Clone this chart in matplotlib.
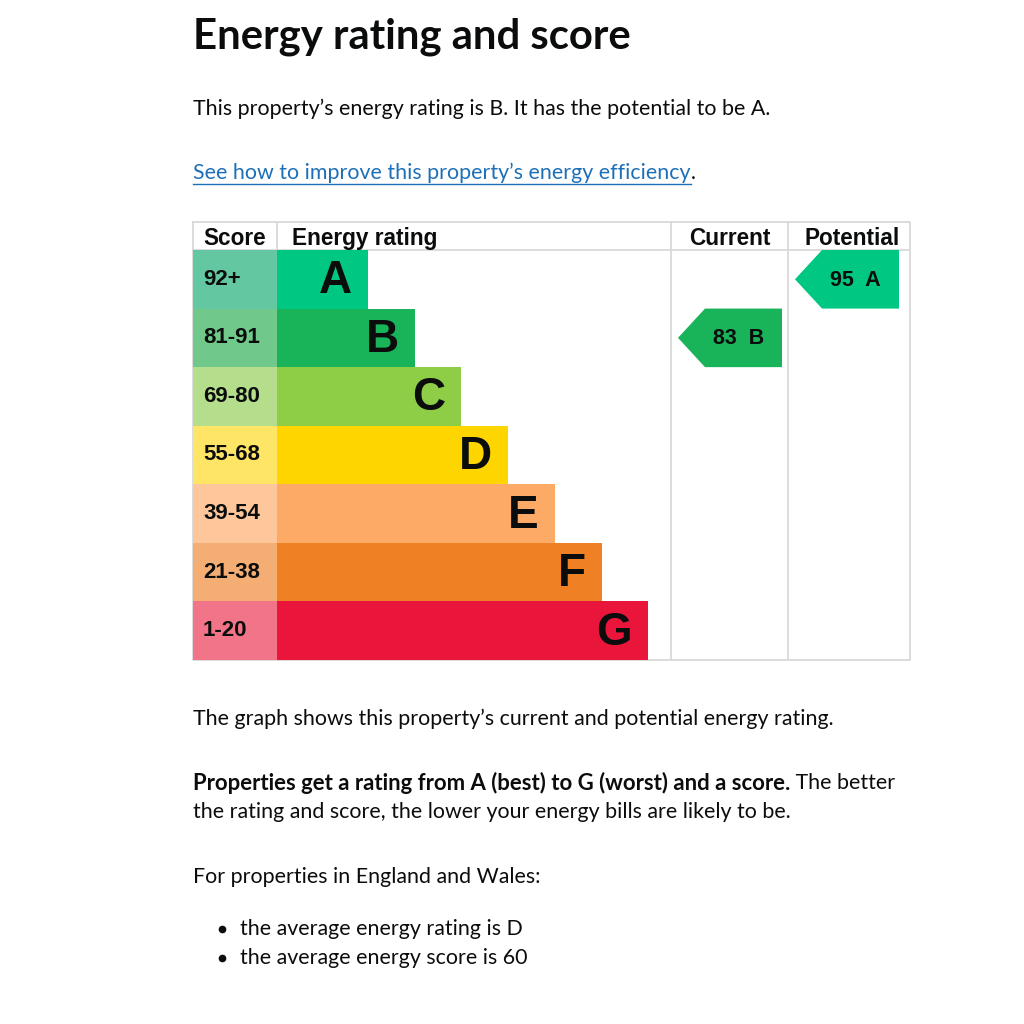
import matplotlib
matplotlib.use("Agg")
import matplotlib.pyplot as plt

# EPC bands, top (best) to bottom (worst)
bands = ["A", "B", "C", "D", "E", "F", "G"]
score_ranges = ["92+", "81-91", "69-80", "55-68", "39-54", "21-38", "1-20"]
band_colors = ["#00c781", "#19b459", "#8dce46", "#ffd500", "#fcaa65", "#ef8023", "#e9153b"]
score_colors = ["#63c8a1", "#70c98a", "#b4de8b", "#ffe566", "#fdc79b", "#f4ad72", "#f27489"]

current_score, current_band = 83, "B"
potential_score, potential_band = 95, "A"

headers = ["Score", "Energy rating", "Current", "Potential"]

title = "Energy rating and score"
intro = "This property\u2019s energy rating is B. It has the potential to be A."
link = "See how to improve this property\u2019s energy efficiency"
graph_note = "The graph shows this property\u2019s current and potential energy rating."
bold_part = "Properties get a rating from A (best) to G (worst) and a score."
rest_part = " The better"
second_line = "the rating and score, the lower your energy bills are likely to be."
region_line = "For properties in England and Wales:"
bullets = ["the average energy rating is D", "the average energy score is 60"]

BODY = "Lato"
CHART = "Liberation Sans"
FS = 15.4
INK = "#0b0c0c"

fig = plt.figure(figsize=(10.24, 10.24), dpi=100)
ax = fig.add_axes([0, 0, 1, 1])
ax.set_xlim(0, 1024)
ax.set_ylim(1024, 0)
ax.axis("off")
renderer = fig.canvas.get_renderer()


def right_edge(t):
    bb = t.get_window_extent(renderer)
    return ax.transData.inverted().transform((bb.x1, bb.y0))[0]


# page text
ax.text(193, 37, title, fontsize=30.2, fontweight="bold", family=BODY, va="center", color=INK)
ax.text(193, 109, intro, fontsize=FS, family=BODY, va="center", color=INK)
lt = ax.text(193, 173, link, fontsize=FS, family=BODY, va="center", color="#1d70b8")
lx = right_edge(lt)
ax.plot([193, lx], [184, 184], color="#1d70b8", lw=1)
ax.text(lx, 173, ".", fontsize=FS, family=BODY, va="center", color=INK)

ax.text(193, 719, graph_note, fontsize=FS, family=BODY, va="center", color=INK)
bt = ax.text(193, 783, bold_part, fontsize=15.9, family=BODY, fontweight="bold", va="center", color=INK)
ax.text(right_edge(bt), 783, rest_part, fontsize=FS, family=BODY, va="center", color=INK)
ax.text(193, 812, second_line, fontsize=FS, family=BODY, va="center", color=INK)
ax.text(193, 877, region_line, fontsize=FS, family=BODY, va="center", color=INK)
for k, b in enumerate(bullets):
    y = 929 + 29 * k
    ax.plot(222, y, "o", color=INK, ms=4.5)
    ax.text(240, y, b, fontsize=FS, family=BODY, va="center", color=INK)

# chart frame
left, right = 193, 910
top, head_bottom, bottom = 222, 250, 660
col_score, col_cur, col_pot = 277, 671, 788
row_h = (bottom - head_bottom) / len(bands)
grid = "#d9d9d9"

centers = [head_bottom + row_h * (i + 0.5) for i in range(len(bands))]
lengths = [91 + 46.7 * i for i in range(len(bands))]

ax.barh(centers, [col_score - left] * len(bands), left=left, height=row_h,
        color=score_colors, edgecolor="none", zorder=2)
ax.barh(centers, lengths, left=col_score, height=row_h,
        color=band_colors, edgecolor="none", zorder=2)

for i, band in enumerate(bands):
    ax.text(203, centers[i], score_ranges[i], fontsize=16, fontweight="bold", family=CHART,
            va="center", ha="left", color=INK, zorder=3)
    ax.text(col_score + lengths[i] - 16, centers[i] + 2, band, fontsize=33, fontweight="bold",
            family=CHART, va="center", ha="right", color=INK, zorder=3)

# grid lines
ax.plot([left, right, right, left, left], [top, top, bottom, bottom, top], color=grid, lw=1.3, zorder=1)
ax.plot([left, right], [head_bottom, head_bottom], color=grid, lw=1.3, zorder=1)
ax.plot([col_score, col_score], [top, head_bottom], color=grid, lw=1.3, zorder=1)
for x in (col_cur, col_pot):
    ax.plot([x, x], [top, bottom], color=grid, lw=1.3, zorder=1)

head_y = 245
hk = dict(fontsize=16.3, fontweight="bold", family=CHART, va="baseline", color=INK)
ax.text(203, head_y, headers[0], **hk)
ax.text(292, head_y, headers[1], **hk)
ax.text((col_cur + col_pot) / 2, head_y, headers[2], ha="center", **hk)
ax.text((col_pot + right) / 2 + 3, head_y, headers[3], ha="center", **hk)


def arrow(score, band, x0, x1):
    i = bands.index(band)
    y0, y1 = head_bottom + row_h * i, head_bottom + row_h * (i + 1)
    notch = x0 + 27
    ax.fill([x0, notch, x1, x1, notch], [(y0 + y1) / 2, y0, y0, y1, y1],
            color=band_colors[i], edgecolor="none", zorder=2)
    ax.text((notch + x1) / 2 - 5, (y0 + y1) / 2 + 1, f"{score}  {band}", fontsize=15.5, fontweight="bold",
            family=CHART, va="center", ha="center", color=INK, zorder=3)


arrow(current_score, current_band, col_cur + 7, col_pot - 6)
arrow(potential_score, potential_band, col_pot + 7, right - 11)

fig.savefig("out.png", dpi=100, facecolor="white")
